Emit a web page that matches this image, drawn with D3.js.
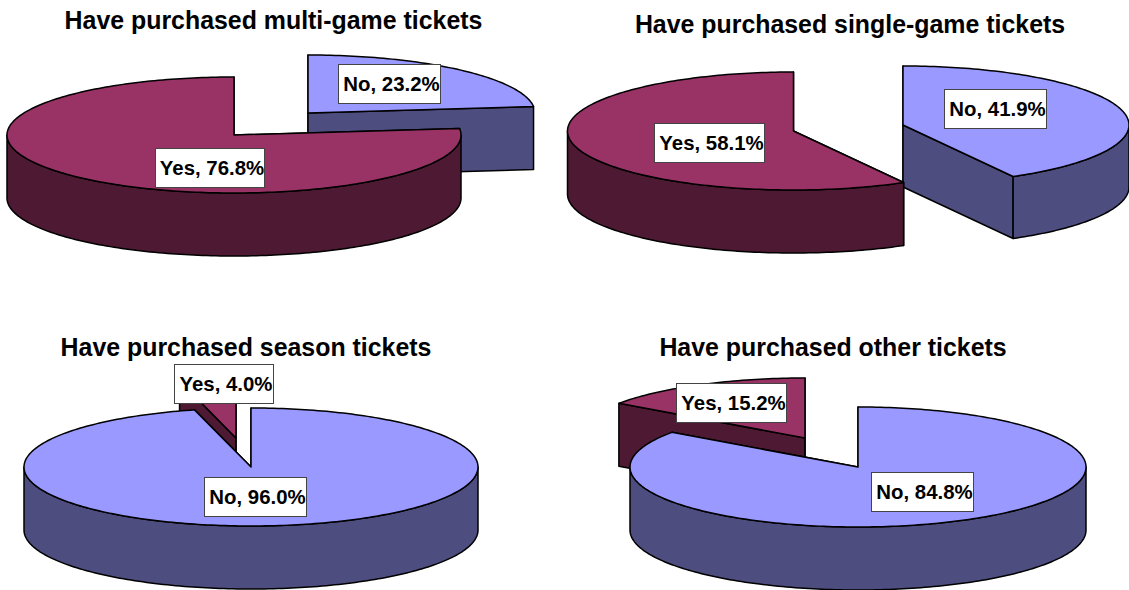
<!DOCTYPE html>
<html><head><meta charset="utf-8">
<style>html,body{margin:0;padding:0;background:#fff}svg{display:block}</style>
<script src="https://cdn.jsdelivr.net/npm/d3@7/dist/d3.min.js"></script>
</head><body><svg id="c" width="1129" height="590"></svg>
<script>
const titles = ["Have purchased multi-game tickets","Have purchased single-game tickets","Have purchased season tickets","Have purchased other tickets"];
const categories = ["No","Yes"];
const noValues = [23.2,41.9,96.0,84.8];
const yesValues = [76.8,58.1,4.0,15.2];

// layout only
const layout = [
 {tx:273.5,ty:20,rx:227,ry:58,d:63,order:["No","Yes"],
  No:{cx:308,cy:113,box:[338,64,102,39]},Yes:{cx:234,cy:135,box:[155,148,109,39]}},
 {tx:850,ty:24,rx:226,ry:59,d:62,order:["No","Yes"],
  No:{cx:903,cy:125,box:[944,89,102,39]},Yes:{cx:793.5,cy:131,d:63,box:[654,123,110,39]}},
 {tx:246,ty:347,rx:227,ry:59,d:63,order:["Yes","No"],
  No:{cx:251,cy:467,box:[204,477,102,39]},Yes:{cx:236,cy:438,box:[174,364,99,39]}},
 {tx:833,ty:347,rx:228,ry:60,d:63,order:["Yes","No"],
  No:{cx:858,cy:467,box:[871,472,102,39]},Yes:{cx:805,cy:438,box:[676,383,110,39]}}
];
const colors = {No:{top:"#9999ff",side:"#4d4d80"},Yes:{top:"#993366",side:"#4d1933"}};

const svg = d3.select("#c");
const angle = d3.scaleLinear().domain([0,100]).range([0,2*Math.PI]);
const line = d3.line();
const strokeW = 1.5;

titles.forEach((title,i)=>{
  const L = layout[i];
  const vals = {No:noValues[i],Yes:yesValues[i]};
  const span = {No:[0,vals.No],Yes:[vals.No,100]};
  const g = svg.append("g");
  g.append("text").attr("x",L.tx).attr("y",L.ty).attr("text-anchor","middle").attr("dominant-baseline","central")
    .attr("font-family","'Liberation Sans',Arial,sans-serif").attr("font-weight","bold").attr("font-size",24.9).attr("fill","#000").text(title);
  L.order.forEach(cat=>{
    const S = L[cat];
    const D = S.d || L.d;
    const a0 = angle(span[cat][0]), a1 = angle(span[cat][1]);
    const pt = (a,dy=0)=>[S.cx+L.rx*Math.sin(a), S.cy-L.ry*Math.cos(a)+dy];
    const arc = (u,v,dy=0)=>{const n=Math.max(2,Math.ceil(Math.abs(v-u)/0.02));return d3.range(n+1).map(k=>pt(u+(v-u)*k/n,dy));};
    const centre=[S.cx,S.cy], centreD=[S.cx,S.cy+D];
    const draw=(pts,fill)=>g.append("path").attr("d",line(pts)+"Z").attr("fill",fill).attr("stroke","#000").attr("stroke-width",strokeW).attr("stroke-linejoin","round");
    // radial faces
    [a0,a1].forEach(a=>draw([centre,pt(a),pt(a,D),centreD],colors[cat].side));
    // outer wall (front half of the rim)
    const lo=Math.max(a0,Math.PI/2), hi=Math.min(a1,3*Math.PI/2);
    if(hi>lo) draw(arc(lo,hi).concat(arc(lo,hi,D).reverse()),colors[cat].side);
    // top
    draw([centre].concat(arc(a0,a1)),colors[cat].top);
  });
  // labels on top
  categories.forEach(cat=>{
    const b=L[cat].box;
    g.append("rect").attr("x",b[0]+.5).attr("y",b[1]+.5).attr("width",b[2]).attr("height",b[3]).attr("fill","#fff").attr("stroke","#444").attr("stroke-width",1);
    g.append("text").attr("x",b[0]+b[2]/2+2.5).attr("y",b[1]+b[3]/2).attr("text-anchor","middle").attr("dominant-baseline","central")
     .attr("font-family","'Liberation Sans',Arial,sans-serif").attr("font-weight","bold").attr("font-size",20.4).attr("fill","#000")
     .text(`${cat}, ${vals[cat].toFixed(1)}%`);
  });
});
</script></body></html>
